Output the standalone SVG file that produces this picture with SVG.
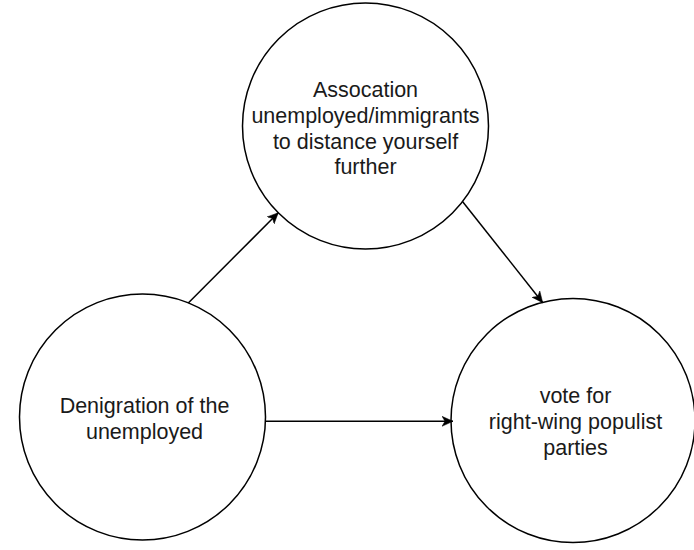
<svg xmlns="http://www.w3.org/2000/svg" width="694" height="550" viewBox="0 0 694 550">
<defs>
<style>
.node{fill:#ffffff;stroke:#000000;stroke-width:1.5}
.lbl{font-family:"Liberation Sans",Arial,sans-serif;font-size:21.5px;fill:#1a1a1a;text-anchor:middle}
.edge{fill:none;stroke:#000000;stroke-width:1.5}
</style>
<marker id="arr" viewBox="-11 -6 12 12" refX="0" refY="0" markerWidth="12" markerHeight="12" markerUnits="userSpaceOnUse" orient="auto">
<path d="M-11,-5 L0,0 L-11,5 L-8,0 Z" fill="#000000" stroke="#000000" stroke-width="0.5"/>
</marker>
</defs>
<rect width="694" height="550" fill="#ffffff"/>
<g id="node-association">
<circle class="node" cx="365.5" cy="126" r="123"/>
<text class="lbl" x="365.5" y="97.3">Assocation</text>
<text class="lbl" x="365.5" y="123">unemployed/immigrants</text>
<text class="lbl" x="365.5" y="148.6">to distance yourself</text>
<text class="lbl" x="365.5" y="174.3">further</text>
</g>
<g id="node-denigration">
<circle class="node" cx="142.5" cy="417" r="123"/>
<text class="lbl" x="144.5" y="412.5">Denigration of the</text>
<text class="lbl" x="144.5" y="438.5">unemployed</text>
</g>
<g id="node-vote">
<circle class="node" cx="573" cy="420.5" r="122"/>
<text class="lbl" x="575.5" y="403.3">vote for</text>
<text class="lbl" x="575.5" y="429">right-wing populist</text>
<text class="lbl" x="575.5" y="454.7">parties</text>
</g>
<g id="connectors">
<line class="edge" x1="188.3" y1="303" x2="278.3" y2="212.7" marker-end="url(#arr)"/>
<line class="edge" x1="462.7" y1="201.7" x2="542.7" y2="302.7" marker-end="url(#arr)"/>
<line class="edge" x1="265.5" y1="421.3" x2="453" y2="421.3" marker-end="url(#arr)"/>
</g>
</svg>
